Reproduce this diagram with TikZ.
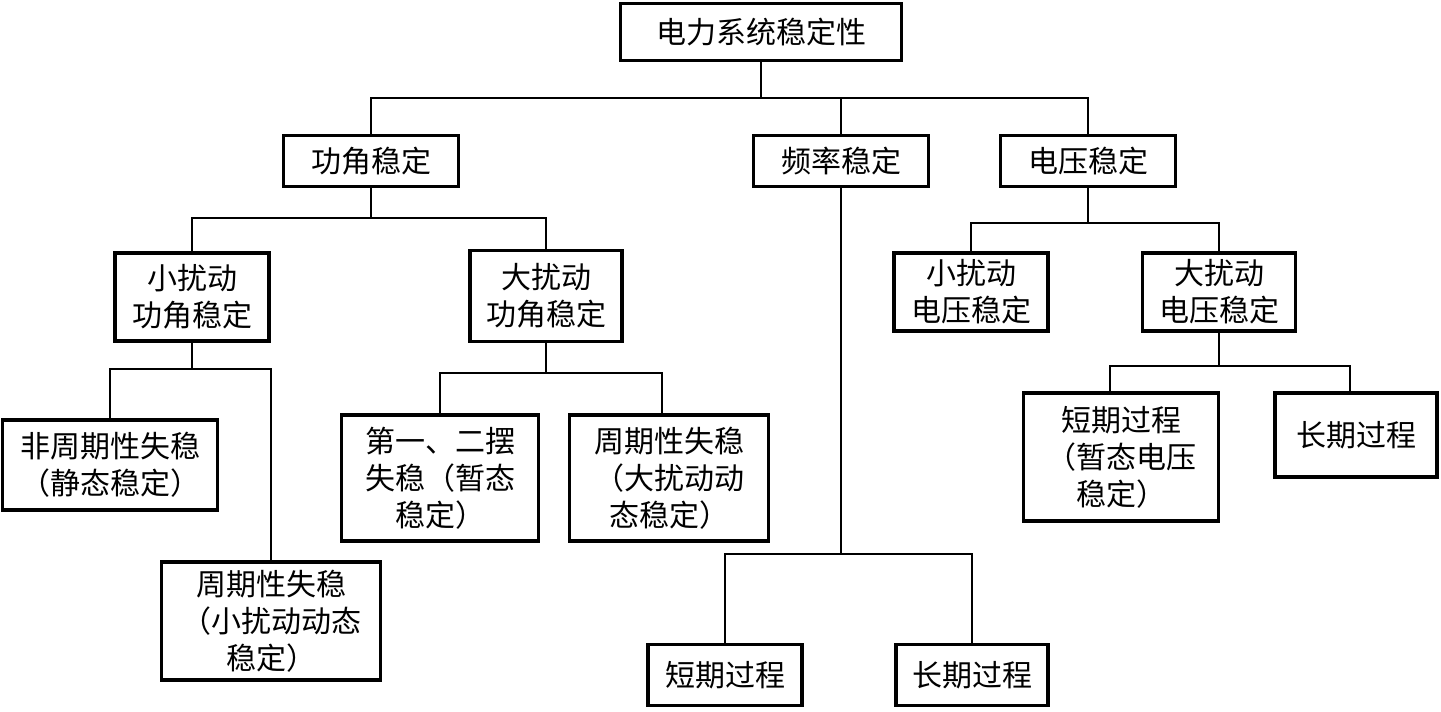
\documentclass[tikz,border=0pt]{standalone}
\usepackage{fontspec}
\newfontfamily\cjk{Noto Sans CJK SC}
\usetikzlibrary{positioning}

\tikzset{
  box/.style={draw, line width=3.8pt, inner sep=0pt, align=center,
    font=\cjk\fontsize{30}{37}\selectfont},
  boxsize/.style 2 args={minimum width=#1, minimum height=#2},
  link/.style={line width=1.3pt}
}

\begin{document}
\begin{tikzpicture}[x=1pt,y=-1pt]
    \useasboundingbox (0,0) rectangle (1441,712);
    % top
    \node[box, boxsize={281}{57}] (root) at (761,32) {电力系统稳定性};
    % second row
    \node[box, boxsize={175}{51}] (gj) at (371,161) {功角稳定};
    \node[box, boxsize={175}{51}] (pl) at (841,161) {频率稳定};
    \node[box, boxsize={175}{51}] (dy) at (1088,161) {电压稳定};
    % third row
    \node[box, boxsize={154}{88}] (xgj) at (192,297) {小扰动\\功角稳定};
    \node[box, boxsize={152}{91}] (dgj) at (546,296) {大扰动\\功角稳定};
    \node[box, boxsize={154}{78}] (xdy) at (971,292) {小扰动\\电压稳定};
    \node[box, boxsize={153}{78}] (ddy) at (1219,292) {大扰动\\电压稳定};
    % fourth row
    \node[box, boxsize={215}{90}] (fzq) at (110,465) {非周期性失稳\\（静态稳定）};
    \node[box, boxsize={219}{118}] (zq1) at (271,621) {周期性失稳\\（小扰动动态\\稳定）};
    \node[box, boxsize={197}{126}] (dyb) at (440,478) {第一、二摆\\失稳（暂态\\稳定）};
    \node[box, boxsize={199}{126}] (zq2) at (669,478) {周期性失稳\\（大扰动动\\态稳定）};
    \node[box, boxsize={195}{128}] (ddq) at (1121,457) {短期过程\\（暂态电压\\稳定）};
    \node[box, boxsize={162}{84}] (dcq) at (1356,435) {长期过程};
    \node[box, boxsize={154}{61}] (pdq) at (725,675) {短期过程};
    \node[box, boxsize={152}{61}] (pcq) at (972,675) {长期过程};
    % bus lines
    \coordinate (b0) at (0,98);
    \coordinate (b1) at (0,218);
    \coordinate (b2) at (0,223);
    \coordinate (b3) at (0,369);
    \coordinate (b4) at (0,373);
    \coordinate (b5) at (0,366);
    \coordinate (b6) at (0,554);
    \coordinate (zq2top) at ([xshift=-7pt]zq2.north);
    \coordinate (ddqtop) at ([xshift=-11pt]ddq.north);
    \coordinate (dcqtop) at ([xshift=-6pt]dcq.north);
    \draw[link] (root.south) -- (root.south |- b0);
    \draw[link] (gj.north) |- (dy.north |- b0) -- (dy.north);
    \draw[link] (pl.north) -- (pl.north |- b0);
    \draw[link] (gj.south) -- (gj.south |- b1);
    \draw[link] (xgj.north) |- (dgj.north |- b1) -- (dgj.north);
    \draw[link] (dy.south) -- (dy.south |- b2);
    \draw[link] (xdy.north) |- (ddy.north |- b2) -- (ddy.north);
    \draw[link] (xgj.south) -- (xgj.south |- b3);
    \draw[link] (fzq.north) |- (zq1.north |- b3) -- (zq1.north);
    \draw[link] (dgj.south) -- (dgj.south |- b4);
    \draw[link] (dyb.north) |- (zq2top |- b4) -- (zq2top);
    \draw[link] (ddy.south) -- (ddy.south |- b5);
    \draw[link] (ddqtop) |- (dcqtop |- b5) -- (dcqtop);
    \draw[link] (pl.south) -- (pl.south |- b6);
    \draw[link] (pdq.north) |- (pcq.north |- b6) -- (pcq.north);
\end{tikzpicture}
\end{document}
